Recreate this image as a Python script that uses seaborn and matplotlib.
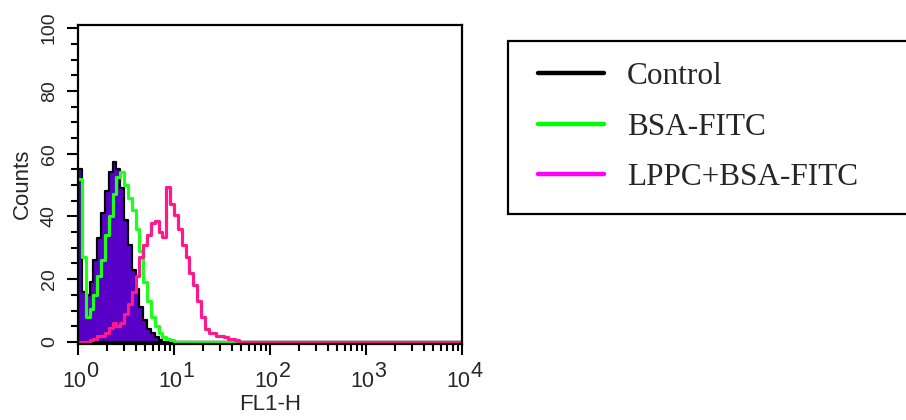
import numpy as np
import pandas as pd
import matplotlib
matplotlib.use("Agg")
import matplotlib.pyplot as plt
from matplotlib.lines import Line2D
from matplotlib.legend_handler import HandlerLine2D
from matplotlib.transforms import ScaledTranslation
from matplotlib.ticker import MultipleLocator, LogLocator, NullFormatter
import seaborn as sns

# ---- data (histogram counts per log-channel, 0.04 decade per channel) ----
log_bin_width = 0.04
n_bins = 100
control_counts = [55, 16, 15, 19, 26, 33, 41, 48, 54, 57.5, 55, 49, 39, 31, 23,
                  17, 11, 7, 4, 3, 1.5, 0.5]
bsa_counts = [52, 27, 8, 10.5, 15, 21, 26, 34, 40, 47, 52.5, 54, 50, 46, 42, 36,
              29, 19, 13, 8, 5, 3, 1.5, 1, 0.5]
lppc_counts = [0, 0, 0, 0.5, 1, 2, 2, 3, 4.5, 6, 5, 6, 9, 12, 16, 21, 27, 31, 34,
               38, 38.5, 35, 33.5, 49.5, 44, 40.5, 36, 31, 27, 22, 18, 13, 8, 4,
               3, 3, 2, 2, 1.5, 1, 1, 0.5]
series_names = ["Control", "BSA-FITC", "LPPC+BSA-FITC"]
legend_colors = ["#000000", "#00ff00", "#ff00ff"]
x_tick_exponents = [0, 1, 2, 3, 4]
y_tick_values = [0, 20, 40, 60, 80, 100]

sns.set_style("ticks")
plt.rcParams["font.family"] = ["Liberation Sans", "DejaVu Sans"]

centers = 10 ** ((np.arange(n_bins) + 0.5) * log_bin_width)


def padded(c):
    return np.concatenate([np.asarray(c, float), np.zeros(n_bins - len(c))])


fig = plt.figure(figsize=(9.06, 4.20), dpi=100)
ax = fig.add_axes([78 / 906, 1 - 343.5 / 420, 384 / 906, (343.5 - 25) / 420])

common = dict(binwidth=log_bin_width, binrange=(0, 4), log_scale=True,
              element="step", ax=ax)
sns.histplot(x=centers, weights=padded(control_counts), fill=True,
             facecolor="#5800c8", edgecolor="black", linewidth=1.6, alpha=1,
             **common)
sns.histplot(x=centers, weights=padded(bsa_counts), fill=False,
             color="#1eff1e", linewidth=2.3, **common)
sns.histplot(x=centers, weights=padded(lppc_counts), fill=False,
             color="#ff1a8c", linewidth=2.3, **common)

ax.set_xlim(1, 10000)
ax.set_ylim(-0.5, 101)
ax.xaxis.set_minor_locator(LogLocator(base=10, subs=np.arange(2, 10)))
ax.xaxis.set_minor_formatter(NullFormatter())
ax.yaxis.set_minor_locator(MultipleLocator(5))
ax.tick_params(axis="both", which="major", length=8, width=1.5, direction="out",
               color="black")
ax.tick_params(axis="both", which="minor", length=5, width=1.5, direction="out",
               color="black")
ax.tick_params(axis="x", which="major", labelsize=15.5, pad=12)
ax.tick_params(axis="y", which="major", labelsize=14, pad=6.5, labelrotation=90)
x_tick_values = [10.0 ** e for e in x_tick_exponents]
ax.set_xticks(x_tick_values, ["10"] * len(x_tick_values))
ax.set_yticks(y_tick_values, [str(v) for v in y_tick_values])
for lab in ax.get_yticklabels():
    lab.set_verticalalignment("center")
shift = ScaledTranslation(-4 / 100, 0, fig.dpi_scale_trans)
for lab in ax.get_xticklabels():
    lab.set_transform(lab.get_transform() + shift)
# exponents drawn at full size, raised, like the reference
for v, e in zip(x_tick_values, x_tick_exponents):
    ax.annotate(str(e), xy=(v, 0), xycoords=ax.get_xaxis_transform(),
                xytext=(8.5, -33.5), textcoords="offset pixels",
                ha="left", va="baseline", fontsize=15.5, annotation_clip=False)
for s in ax.spines.values():
    s.set_visible(True)
    s.set_linewidth(1.6)
    s.set_color("black")
ax.set_xlabel("FL1-H", fontsize=16, labelpad=1)
ax.set_ylabel("Counts", fontsize=16, labelpad=6)

handles = [Line2D([0], [0], color=c, linewidth=3.2) for c in legend_colors]
leg = fig.legend(handles, series_names, loc="upper left",
                 bbox_to_anchor=(508 / 906, 1 - 41 / 420, 420 / 906, 0.0),
                 mode="expand", borderaxespad=0, frameon=True, fancybox=False,
                 framealpha=1, edgecolor="black",
                 prop={"family": "Liberation Serif", "size": 22.5},
                 handlelength=2.39, handletextpad=0.74, borderpad=0.68,
                 labelspacing=0.69,
                 handler_map={Line2D: HandlerLine2D(xpad=0.28)})
leg.get_frame().set_linewidth(1.6)

fig.savefig("out.png", dpi=100)
